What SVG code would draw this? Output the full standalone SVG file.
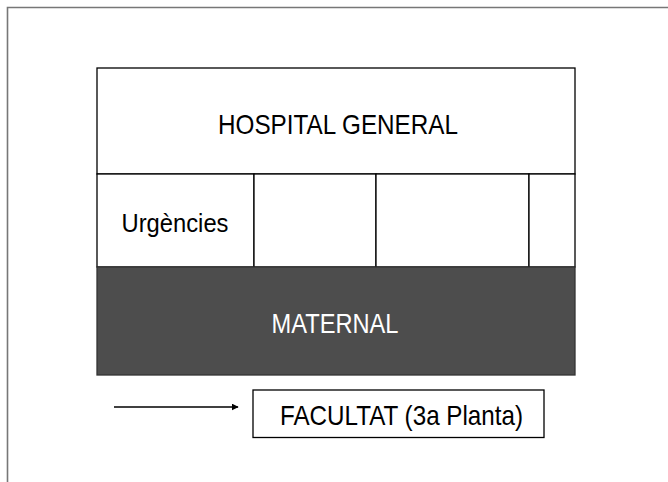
<svg xmlns="http://www.w3.org/2000/svg" width="668" height="482" viewBox="0 0 668 482">
<style>
.box{fill:#fff;stroke:#000;stroke-width:1.3}
.dark{fill:#4d4d4d;stroke:#333;stroke-width:1.3}
.t{font-family:"Liberation Sans",Arial,sans-serif;fill:#000}
.w{fill:#fff}
</style>
<defs>
<marker id="ah" viewBox="0 0 10 10" refX="9" refY="5" markerWidth="7" markerHeight="7" markerUnits="userSpaceOnUse" orient="auto"><path d="M0,0 L10,5 L0,10 z" fill="#000"/></marker>
</defs>
<rect width="668" height="482" fill="#fff"/>
<path d="M7.5,482 V7.5 H668" fill="none" stroke="#777" stroke-width="1.6"/>
<g id="hospital-general">
<rect class="box" x="97" y="68" width="478" height="106"/>
<text class="t" x="338" y="134" font-size="28" text-anchor="middle" textLength="240" lengthAdjust="spacingAndGlyphs">HOSPITAL GENERAL</text>
</g>
<g id="urgencies">
<rect class="box" x="97" y="174" width="157" height="93"/>
<text class="t" x="175" y="231.5" font-size="25" text-anchor="middle" textLength="107" lengthAdjust="spacingAndGlyphs">Urgències</text>
</g>
<g id="cell-2"><rect class="box" x="254" y="174" width="122" height="93"/></g>
<g id="cell-3"><rect class="box" x="376" y="174" width="153" height="93"/></g>
<g id="cell-4"><rect class="box" x="529" y="174" width="46" height="93"/></g>
<g id="maternal">
<rect class="dark" x="97" y="267" width="478" height="108"/>
<text class="t w" x="335" y="333" font-size="28" text-anchor="middle" textLength="127" lengthAdjust="spacingAndGlyphs">MATERNAL</text>
</g>
<g id="facultat">
<rect class="box" x="253" y="390" width="291" height="47.5"/>
<text class="t" x="401.5" y="424.5" font-size="28" text-anchor="middle" textLength="243" lengthAdjust="spacingAndGlyphs">FACULTAT (3a Planta)</text>
</g>
<g id="connectors">
<line x1="114" y1="407" x2="238" y2="407" stroke="#000" stroke-width="1.3" marker-end="url(#ah)"/>
</g>
</svg>
